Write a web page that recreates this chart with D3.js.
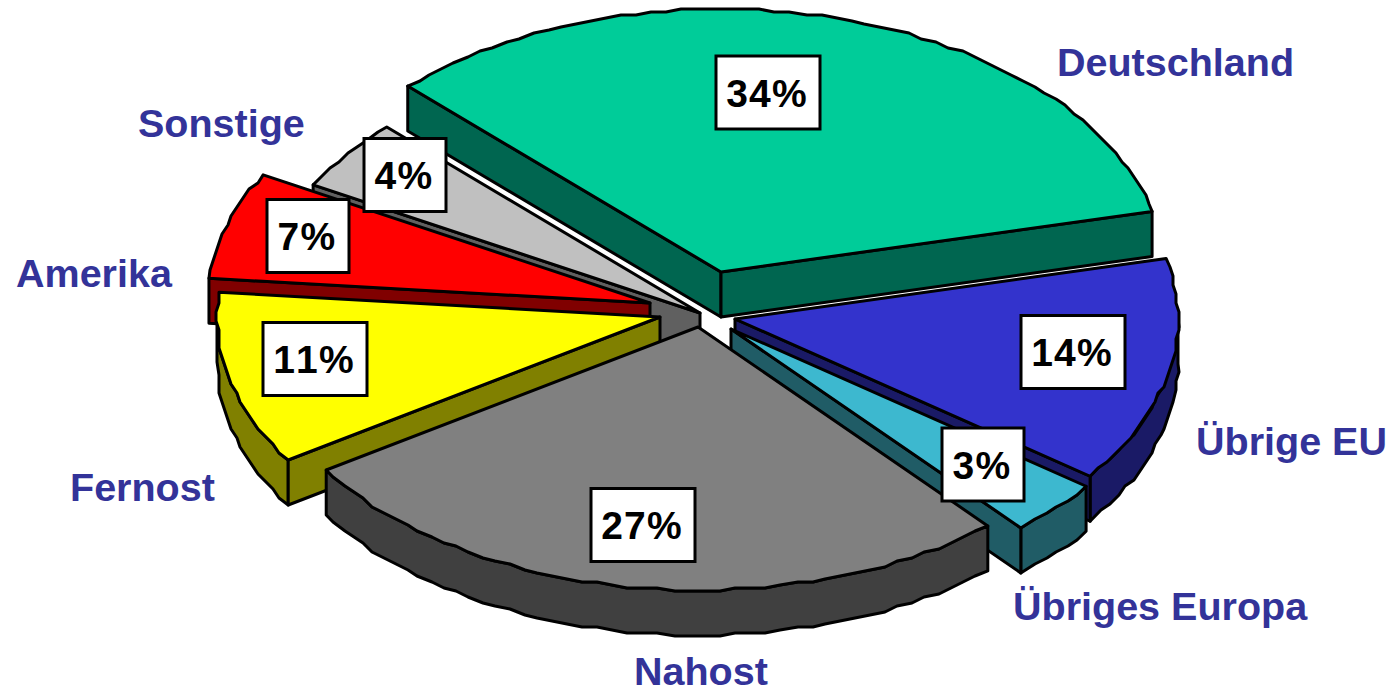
<!DOCTYPE html>
<html>
<head>
<meta charset="utf-8">
<script src="https://d3js.org/d3.v7.min.js"></script>
<style>
html,body{margin:0;padding:0;background:#fff;overflow:hidden}
svg{display:block}
text{font-family:"Liberation Sans",Arial,sans-serif;font-weight:bold;font-kerning:none}
</style>
</head>
<body>
<svg id="c" width="1388" height="688"></svg>
<script>
// Data (clockwise from the upper left)
const categories = ["Deutschland","Übrige EU","Übriges Europa","Nahost","Fernost","Amerika","Sonstige"];
const shares = [33.8,13.9,3.45,27.2,10.65,6.6,4.4];
const topColors = ["#00CC99","#3333CC","#3DB8CF","#808080","#FFFF00","#FF0000","#C0C0C0"];
const wallColors = ["#006650","#1A1A66","#205C66","#404040","#808000","#800000","#606060"];

// Layout only
const apexes = [[721,272],[735,319],[731,329],[698,327],[660,317],[650,303],[700,313]];
const nameAnchors = [[1057,76],[1196,455],[1013,620],[634,685],[70,501],[16,287],[138,137]];
const boxCentres = [[768,92.5],[1073,352],[983,464.5],[643,525],[315,359],[308,236],[405,175]];
const drawOrder = [6,5,4,0,1,2,3];
const RX = 443, RY = 263, DEPTH = 45, GRID = 3, STEP = Math.PI/90;

const svg = d3.select("#c");
const pie = d3.pie().sort(null).startAngle(-45*Math.PI/180).endAngle(315*Math.PI/180);
const arcs = pie(shares);
const sx = d3.scaleLinear().domain([-1,1]).range([-RX,RX]);
const sy = d3.scaleLinear().domain([-1,1]).range([-RY,RY]);
const line = d3.line();

function pt(i,a,dy){ return [apexes[i][0]+sx(Math.sin(a)), apexes[i][1]-sy(Math.cos(a))+(dy||0)]; }
function rim(i,a0,a1,dy){
  const pts=[pt(i,a0,dy)];
  for(let a=a0+STEP;a<a1-STEP/2;a+=STEP){
    const p=pt(i,a,dy);
    pts.push([Math.round(p[0]/GRID)*GRID,Math.round(p[1]/GRID)*GRID]);
  }
  pts.push(pt(i,a1,dy));
  return pts;
}
function shape(g,pts,fill){
  g.append("path").attr("d",line(pts)+"Z").attr("fill",fill)
    .attr("stroke","#000").attr("stroke-width",3).attr("stroke-linejoin","round");
}
// A radial wall shows only when the slice's top face lies above that edge
function faceAbove(i,d,a){
  const A=apexes[i], P=pt(i,a), M=pt(i,(d.startAngle+d.endAngle)/2);
  const edgeY=A[1]+(P[1]-A[1])*(M[0]-A[0])/(P[0]-A[0]);
  return M[1]<edgeY;
}
drawOrder.forEach(i=>{
  const d=arcs[i], g=svg.append("g").attr("class","slice");
  const ax=apexes[i], A0=[ax[0],ax[1]], A1=[ax[0],ax[1]+DEPTH];
  // outer wall: only the front half of the ellipse
  const a0=Math.max(d.startAngle,Math.PI/2), a1=Math.min(d.endAngle,Math.PI*1.5);
  if(a1>a0){
    shape(g,rim(i,a0,a1,0).concat(rim(i,a0,a1,DEPTH).reverse()),wallColors[i]);
  }
  [d.startAngle,d.endAngle].forEach(a=>{
    if(faceAbove(i,d,a)) shape(g,[A0,pt(i,a),pt(i,a,DEPTH),A1],wallColors[i]);
  });
  shape(g,[A0].concat(rim(i,d.startAngle,d.endAngle,0)),topColors[i]);
});
categories.forEach((c,i)=>{
  const pct=Math.round(shares[i])+"%";
  const w=pct.length===3?104:82, h=73, [cx,cy]=boxCentres[i];
  svg.append("rect").attr("x",cx-w/2).attr("y",cy-h/2).attr("width",w).attr("height",h)
    .attr("fill","#fff").attr("stroke","#000").attr("stroke-width",3);
  svg.append("text").attr("x",cx-1).attr("y",cy+14).attr("text-anchor","middle")
    .attr("font-size",39).attr("letter-spacing",1.2).attr("fill","#000").text(pct);
  svg.append("text").attr("x",nameAnchors[i][0]).attr("y",nameAnchors[i][1])
    .attr("font-size",39.5).attr("fill","#333399").text(c);
});
</script>
</body>
</html>
